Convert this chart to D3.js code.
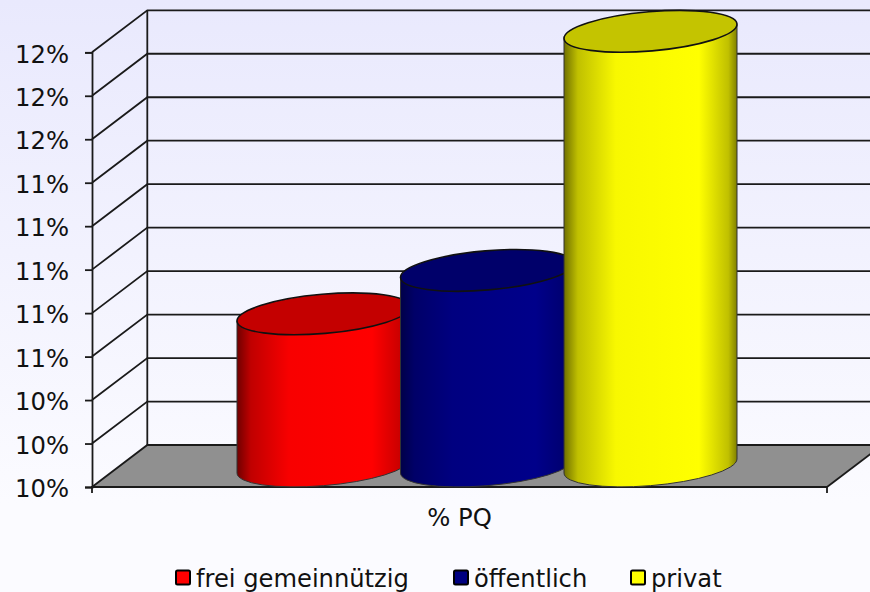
<!DOCTYPE html>
<html><head><meta charset="utf-8">
<script src="https://cdn.jsdelivr.net/npm/d3@7/dist/d3.min.js"></script>
<style>html,body{margin:0;padding:0;background:#fbfbff}svg{display:block}text{font-family:"DejaVu Sans",sans-serif;fill:#111}</style>
</head><body><script>
const categories = ["frei gemeinnützig", "öffentlich", "privat"];
const values = [10.7, 10.9, 12.0];
const axisCategory = "% PQ";
const yTicks = [10, 10.2, 10.4, 10.6, 10.8, 11, 11.2, 11.4, 11.6, 11.8, 12];
const bodyColors = [
  ["#700000", "#c00000", "#f80000", "#ff0000", "#c80000", "#800000"],
  ["#000048", "#000068", "#000080", "#00008a", "#000070", "#000050"],
  ["#707000", "#c0c000", "#f8f800", "#ffff00", "#c0c000", "#808000"]
];
const topColors = ["#c40000", "#00006a", "#c4c400"];

const W = 870, H = 592;
const FX = 92, FB = 487, FT = 52.3, DX = 55.3, DY = 42, RX = 827;
const svg = d3.select("body").append("svg").attr("width", W).attr("height", H);
const defs = svg.append("defs");
const bg = defs.append("linearGradient").attr("id", "bg").attr("x1", 0).attr("x2", 0).attr("y1", 0).attr("y2", 1);
bg.append("stop").attr("offset", 0).attr("stop-color", "#e9e9fd");
bg.append("stop").attr("offset", 0.85).attr("stop-color", "#fbfbff");
svg.append("rect").attr("width", W).attr("height", H).attr("fill", "url(#bg)");

const y = d3.scaleLinear().domain([10, 12]).range([FB, FT]);
const x = d3.scalePoint().domain(categories).range([237, 564]);

// floor
svg.append("path").attr("fill", "#909090")
  .attr("d", d3.line()([[FX, FB], [FX + DX, FB - DY], [RX + DX, FB - DY], [RX, FB]]) + "Z");
const ink = "#1a1a1a";
// walls
const grid = svg.append("g").attr("stroke", ink).attr("stroke-width", 1.8).attr("fill", "none");
yTicks.forEach(t => {
  grid.append("path").attr("d", d3.line()([[FX, y(t)], [FX + DX, y(t) - DY], [RX + DX, y(t) - DY]]));
});
grid.append("line").attr("x1", FX + DX).attr("x2", FX + DX).attr("y1", y(12) - DY).attr("y2", y(10) - DY);
grid.append("line").attr("x1", RX).attr("x2", RX + DX).attr("y1", FB).attr("y2", FB - DY);

// axes
const axL = svg.append("g").attr("transform", `translate(${FX},0)`)
  .call(d3.axisLeft(y).tickValues(yTicks).tickFormat(d => d3.format(".0f")(d) + "%").tickSize(7).tickPadding(16));
axL.selectAll("path,line").attr("stroke", ink).attr("stroke-width", 1.8);
axL.selectAll("text").attr("font-size", 24.3).attr("dy", "0.40em").attr("fill", "#111");
axL.style("font-family", null);

const xAxisScale = d3.scaleBand().domain([axisCategory]).range([FX, RX]);
const axB = svg.append("g").attr("transform", `translate(0,${FB})`)
  .call(d3.axisBottom(xAxisScale).tickSize(0).tickPadding(22));
axB.select("path").attr("stroke", ink).attr("stroke-width", 1.8).attr("d", `M${FX},6V0H${RX}V6`);
axB.selectAll("text").attr("font-size", 24.3).attr("fill", "#111");
axB.style("font-family", null);

// cylinders
const RA = 86.8, RB = 19.6, ROT = -4.9, HW = 86.5, HH = 21, OFF = 7;
const baseCy = FB - HH;
categories.forEach((c, i) => {
  const g = defs.append("linearGradient").attr("id", "bar" + i);
  [0, 0.08, 0.3, 0.78, 0.95, 1].forEach((o, k) => g.append("stop").attr("offset", o).attr("stop-color", bodyColors[i][k]));
});
const bars = svg.append("g").selectAll("g").data(categories).join("g");
bars.each(function (c, i) {
  const cx = x(c) + HW, top = baseCy - (FB - y(values[i]));
  const s = d3.select(this);
  const arc = `A${RA},${RB} ${ROT} 0 0 `;
  s.append("path").attr("fill", `url(#bar${i})`).attr("stroke", "#333").attr("stroke-width", 1)
    .attr("d", `M${cx - HW},${top + OFF}L${cx - HW},${baseCy + OFF}${arc}${cx + HW},${baseCy - OFF}L${cx + HW},${top - OFF}Z`);
  s.append("ellipse").attr("rx", RA).attr("ry", RB)
    .attr("transform", `translate(${cx},${top}) rotate(${ROT})`)
    .attr("fill", topColors[i]).attr("stroke", "#111").attr("stroke-width", 1.6);
});

// legend
const legendX = [176, 454, 631];
const swatch = ["#ff0000", "#000080", "#ffff00"];
categories.forEach((c, i) => {
  svg.append("rect").attr("x", legendX[i]).attr("y", 570.5).attr("width", 14).attr("height", 14).attr("rx", 1.5)
    .attr("fill", swatch[i]).attr("stroke", "#000").attr("stroke-width", 2);
  svg.append("text").attr("x", legendX[i] + 20).attr("y", 586.5).attr("font-size", 24.2).text(c);
});
</script></body></html>
